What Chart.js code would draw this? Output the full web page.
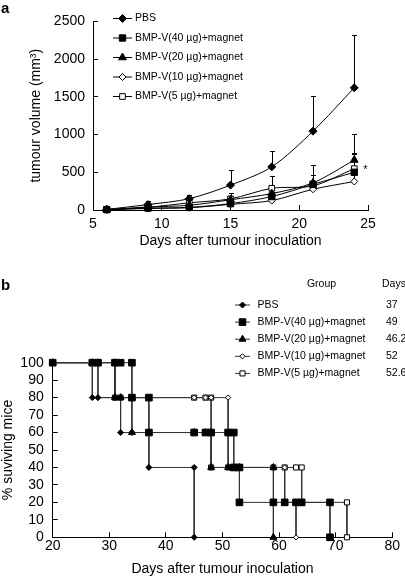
<!DOCTYPE html>
<html>
<head>
<meta charset="utf-8">
<script src="https://cdn.jsdelivr.net/npm/chart.js@4.4.0/dist/chart.umd.min.js"></script>
<style>
  body { margin: 0; background: #fff; width: 405px; height: 579px; position: relative; overflow: hidden;
         font-family: "Liberation Sans", Arial, sans-serif; }
  .panel { position: absolute; left: 0; width: 405px; }
  #wrapA { top: 0; height: 255px; }
  #wrapB { top: 278px; height: 301px; }
  .tag { position: absolute; left: 1px; font-weight: bold; font-size: 15px; line-height: 16px; }
</style>
</head>
<body>
<div class="panel" id="wrapA"><canvas id="volChart" width="405" height="255"></canvas></div>
<div class="panel" id="wrapB"><canvas id="survChart" width="405" height="301"></canvas></div>
<div class="tag" style="top:0px">a</div>
<div class="tag" style="top:277px">b</div>
<script>
// Panel a: tumour volume (mm3) per day
const volDays = [6, 9, 12, 15, 18, 21, 24];
const volPBS = [8, 72, 150, 330, 572, 1045, 1620];
const volBmp40 = [5, 25, 35, 85, 178, 340, 500];
const volBmp20 = [5, 40, 62, 136, 218, 360, 662];
const volBmp10 = [3, 20, 30, 75, 125, 275, 378];
const volBmp5 = [5, 35, 95, 148, 288, 320, 548];
// upper error bars
const errPBS = [10, 45, 55, 195, 205, 470, 695];
const errBmp40 = [5, 12, 15, 30, 60, 130, 255];
const errBmp20 = [5, 20, 25, 55, 100, 230, 340];
const errBmp10 = [3, 10, 10, 25, 40, 80, 100];
const errBmp5 = [5, 15, 30, 80, 157, 145, 200];

// Panel b: % surviving mice (step curves, vertices)
const survPBSDays = [20, 27, 27, 28, 31, 32, 32, 34, 37, 37, 45, 45];
const survPBSPct = [100, 100, 80, 80, 80, 80, 60, 60, 60, 40, 40, 0];
const surv40Days = [20, 27, 28, 31, 32, 34, 34, 37, 37, 45, 47, 48, 51, 52, 52, 53, 53, 59, 61, 63, 64, 69, 69];
const surv40Pct = [100, 100, 100, 100, 100, 100, 80, 80, 60, 60, 60, 60, 60, 60, 40, 40, 20, 20, 20, 20, 20, 20, 0];
const surv20Days = [20, 27, 28, 31, 31, 32, 34, 34, 37, 45, 47, 48, 48, 51, 52, 53, 59, 59];
const surv20Pct = [100, 100, 100, 100, 80, 80, 80, 60, 60, 60, 60, 60, 40, 40, 40, 40, 40, 0];
const surv10Days = [20, 27, 28, 28, 31, 32, 34, 37, 45, 47, 48, 51, 51, 52, 53, 59, 61, 61, 63, 63];
const surv10Pct = [100, 100, 100, 80, 80, 80, 80, 80, 80, 80, 80, 80, 40, 40, 40, 40, 40, 20, 20, 0];
const surv5Days = [20, 27, 28, 31, 31, 32, 34, 37, 45, 47, 48, 48, 51, 52, 53, 59, 61, 63, 64, 64, 69, 72, 72];
const surv5Pct = [100, 100, 100, 100, 80, 80, 80, 80, 80, 80, 80, 40, 40, 40, 40, 40, 40, 40, 40, 20, 20, 20, 0];

const groupNames = ['PBS', 'BMP-V(40 \u00b5g)+magnet', 'BMP-V(20 \u00b5g)+magnet', 'BMP-V(10 \u00b5g)+magnet', 'BMP-V(5 \u00b5g)+magnet'];
const meanDays = ['37', '49', '46.2', '52', '52.6'];

Chart.defaults.font.family = "'Liberation Sans', Arial, sans-serif";
Chart.defaults.color = '#000';

// marker look for each group: [pointStyle, fill]
const markers = [
  ['rectRot', '#000'],
  ['rect', '#000'],
  ['triangle', '#000'],
  ['rectRot', '#fff'],
  ['rect', '#fff']
];

function pairs(xs, ys) {
  return xs.map((x, i) => ({ x: x, y: ys[i] }));
}

function drawMarker(ctx, style, radius, fill, x, y, stroke) {
  ctx.fillStyle = fill;
  ctx.strokeStyle = stroke;
  ctx.lineWidth = 1;
  Chart.helpers.drawPoint(ctx, { pointStyle: style, radius: radius, rotation: 0, borderWidth: 1 }, x, y);
}

function axisX(min, max, step, title, labelPad, titlePad, height) {
  return {
    type: 'linear', min: min, max: max,
    ticks: { stepSize: step, autoSkip: false, font: { size: 14 }, padding: labelPad, maxRotation: 0,
             callback: v => String(v) },
    grid: { drawOnChartArea: false, tickLength: -5, color: '#000' },
    border: { color: '#000' },
    title: { display: true, text: title, font: { size: 14 }, padding: { top: 0, bottom: titlePad } },
    afterFit: s => { s.height = height; }
  };
}

function axisY(min, max, step, title, labelPad, titlePad, width) {
  return {
    min: min, max: max,
    ticks: { stepSize: step, autoSkip: false, font: { size: 14 }, padding: labelPad,
             callback: v => String(v) },
    grid: { drawOnChartArea: false, tickLength: -5, color: '#000' },
    border: { color: '#000' },
    title: { display: true, text: title, font: { size: 14 }, padding: { top: titlePad, bottom: 0 } },
    afterFit: s => { s.width = width; }
  };
}

// ---------- panel a ----------
const volRadius = [4, 4.5, 4.5, 3.5, 4];
const volSeries = [volPBS, volBmp40, volBmp20, volBmp10, volBmp5];
const volErrors = [errPBS, errBmp40, errBmp20, errBmp10, errBmp5];

const volSets = volSeries.map((vals, k) => ({
  label: groupNames[k],
  data: pairs(volDays, vals),
  errors: volErrors[k],
  borderColor: '#000',
  borderWidth: 1,
  tension: 0.3,
  pointStyle: markers[k][0],
  pointRadius: volRadius[k],
  pointBackgroundColor: markers[k][1],
  pointBorderColor: '#000',
  pointBorderWidth: 1,
  clip: false
}));

const errorBars = {
  id: 'errorBars',
  beforeDatasetsDraw(chart) {
    const { ctx, scales: { x, y } } = chart;
    ctx.save();
    ctx.strokeStyle = '#000';
    ctx.lineWidth = 1;
    chart.data.datasets.forEach(ds => {
      ds.data.forEach((p, i) => {
        const px = Math.round(x.getPixelForValue(p.x)) + 0.5;
        const base = y.getPixelForValue(p.y);
        const top = Math.round(y.getPixelForValue(p.y + ds.errors[i])) + 0.5;
        ctx.beginPath();
        ctx.moveTo(px, base);
        ctx.lineTo(px, top);
        ctx.moveTo(px - 2.5, top);
        ctx.lineTo(px + 2.5, top);
        ctx.stroke();
      });
    });
    ctx.restore();
  }
};

const legendA = {
  id: 'legendA',
  afterDraw(chart) {
    const { ctx, scales: { x, y } } = chart;
    ctx.save();
    ctx.font = "10.5px 'Liberation Sans', Arial, sans-serif";
    ctx.textBaseline = 'middle';
    chart.data.datasets.forEach((ds, k) => {
      const ly = 18.5 + k * 19.5;
      ctx.strokeStyle = '#000';
      ctx.lineWidth = 1;
      ctx.beginPath();
      ctx.moveTo(113, ly);
      ctx.lineTo(132, ly);
      ctx.stroke();
      drawMarker(ctx, ds.pointStyle, ds.pointRadius, ds.pointBackgroundColor, 122.5, ly, '#000');
      ctx.fillStyle = '#000';
      ctx.fillText(ds.label, 135, ly);
    });
    // significance mark next to the day-24 cluster
    ctx.font = "11px 'Liberation Sans', Arial, sans-serif";
    ctx.fillText('*', x.getPixelForValue(24) + 9, y.getPixelForValue(530));
    ctx.restore();
  }
};

new Chart(document.getElementById('volChart'), {
  type: 'line',
  data: { datasets: volSets },
  options: {
    responsive: false,
    animation: false,
    layout: { padding: { top: 8, right: 37, left: 0, bottom: 0 } },
    plugins: { legend: { display: false }, tooltip: { enabled: false } },
    scales: {
      x: axisX(5, 25, 5, 'Days after tumour inoculation', 11, 5, 45),
      y: axisY(0, 2500, 500, 'tumour volume (mm\u00b3)', 13, 28, 93)
    }
  },
  plugins: [errorBars, legendA]
});

// ---------- panel b ----------
const survRadius = [3, 4.7, 4, 2.6, 3.6];
const survX = [survPBSDays, surv40Days, surv20Days, surv10Days, surv5Days];
const survY = [survPBSPct, surv40Pct, surv20Pct, surv10Pct, surv5Pct];

const survSets = survX.map((xs, k) => ({
  label: groupNames[k],
  data: pairs(xs, survY[k]),
  borderColor: '#333',
  borderWidth: 1,
  tension: 0,
  pointStyle: markers[k][0],
  pointRadius: survRadius[k],
  pointBackgroundColor: markers[k][1],
  pointBorderColor: '#000',
  pointBorderWidth: 1,
  clip: false
}));

const legendB = {
  id: 'legendB',
  afterDraw(chart) {
    const ctx = chart.ctx;
    ctx.save();
    ctx.font = "10.5px 'Liberation Sans', Arial, sans-serif";
    ctx.textBaseline = 'middle';
    ctx.fillStyle = '#000';
    ctx.textAlign = 'center';
    ctx.fillText('Group', 321.5, 6);
    ctx.textAlign = 'left';
    ctx.fillText('Days', 382, 6);
    chart.data.datasets.forEach((ds, k) => {
      const ly = 27 + k * 17.1;
      ctx.strokeStyle = '#333';
      ctx.lineWidth = 1;
      ctx.beginPath();
      ctx.moveTo(235, ly);
      ctx.lineTo(250, ly);
      ctx.stroke();
      drawMarker(ctx, ds.pointStyle, ds.pointRadius, ds.pointBackgroundColor, 242.5, ly, '#000');
      ctx.fillStyle = '#000';
      ctx.fillText(ds.label, 257.5, ly);
      ctx.fillText(meanDays[k], 386, ly);
    });
    ctx.restore();
  }
};

new Chart(document.getElementById('survChart'), {
  type: 'line',
  data: { datasets: survSets },
  options: {
    responsive: false,
    animation: false,
    layout: { padding: { top: 84.7, right: 9, left: 0, bottom: 0 } },
    plugins: { legend: { display: false }, tooltip: { enabled: false } },
    scales: {
      x: axisX(20, 80, 10, 'Days after tumour inoculation', 5, 1, 41.7),
      y: axisY(0, 100, 10, '% suviving mice', 14, 0, 52.7)
    }
  },
  plugins: [legendB]
});
</script>
</body>
</html>
